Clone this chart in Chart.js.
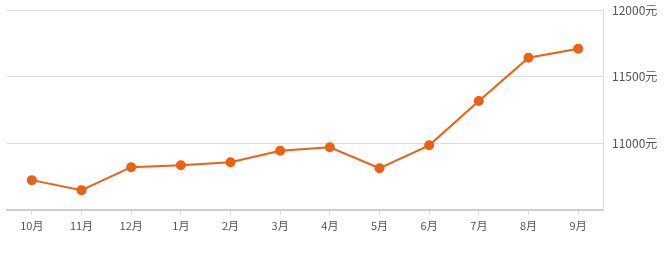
<!DOCTYPE html>
<html lang="zh">
<head>
  <meta charset="UTF-8">
  <title>房价走势</title>
  <script src="https://cdn.jsdelivr.net/npm/chart.js"></script>
  <style>
    * { margin: 0; padding: 0; box-sizing: border-box; }
    body { background: #fff; width: 666px; height: 257px; overflow: hidden; }
    .wrap { position: relative; width: 666px; height: 257px; }
  </style>
</head>
<body>
  <div class="wrap"><canvas id="priceChart"></canvas></div>
  <script>
    // months and average price (元)
    const months = ['10月', '11月', '12月', '1月', '2月', '3月', '4月', '5月', '6月', '7月', '8月', '9月'];
    const prices = [10724, 10649, 10821, 10836, 10858, 10944, 10970, 10813, 10985, 11317, 11642, 11709];
    const yTicks = [11000, 11500, 12000];

    const ctx = document.getElementById('priceChart').getContext('2d');
    new Chart(ctx, {
      type: 'line',
      data: {
        labels: months,
        datasets: [{
          data: prices,
          borderColor: '#f0600f',
          backgroundColor: '#f0600f',
          borderWidth: 2,
          pointRadius: 4,
          pointHoverRadius: 5,
          tension: 0,
          fill: false
        }]
      },
      options: {
        responsive: true,
        maintainAspectRatio: false,
        animation: false,
        layout: { padding: { left: 3, top: 10, right: 0, bottom: 0 } },
        plugins: { legend: { display: false }, tooltip: { enabled: false } },
        scales: {
          x: {
            offset: true,
            grid: { display: true, drawOnChartArea: false, offset: false, tickLength: 5, color: '#ddd' },
            border: { color: '#d0d0d0', width: 2 },
            ticks: {
              color: '#555',
              padding: 4,
              font: { family: '"Noto Sans CJK SC", "Noto Sans", sans-serif', size: 11 }
            },
            afterFit(scale) { scale.height = 47; },
            afterUpdate(scale) {
              scale.paddingLeft = 0;
              scale.paddingRight = 0;
            }
          },
          y: {
            position: 'right',
            min: 10500,
            max: 12000,
            grid: { color: '#dcdcdc', lineWidth: 1, tickLength: 0 },
            border: { color: '#dcdcdc', width: 1 },
            ticks: {
              stepSize: 500,
              padding: 9,
              color: '#555',
              font: { family: '"Noto Sans CJK SC", "Noto Sans", sans-serif', size: 12 },
              callback: v => yTicks.includes(v) ? v + '元' : ''
            },
            afterFit(scale) {
              scale.width = 63;
              scale.paddingTop = 0;
              scale.paddingBottom = 0;
            }
          }
        }
      }
    });
  </script>
</body>
</html>
